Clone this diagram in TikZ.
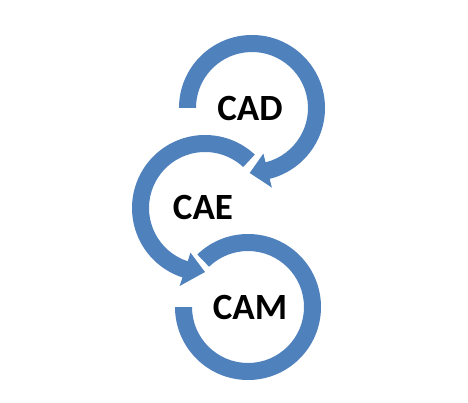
\documentclass[tikz,border=0pt]{standalone}
\usepackage{fontspec}
\setmainfont{Carlito}
\definecolor{ringblue}{HTML}{4F81BD}
\begin{document}
\begin{tikzpicture}[x=1pt,y=1pt,
  lbl/.style={font=\bfseries\fontsize{37}{40}\selectfont, inner sep=0pt, text=black},
  ring/.style={fill=ringblue}]
\useasboundingbox (0,0) rectangle (468,402);
\fill[white] (0,0) rectangle (468,402);
% CAD ring with arrow
\fill[ring, shift={(252,294)}] (180:73pt) arc[start angle=180, end angle=-76, radius=73pt]
  -- (-76:82pt) -- (-92:65pt) -- (-76:47pt) -- (-76:56pt)
  arc[start angle=-76, end angle=180, radius=56pt] -- cycle;
% CAE ring with arrow
\fill[ring, shift={(205,194)}] (47:73pt) arc[start angle=47, end angle=252, radius=73pt]
  -- (252:82pt) -- (270:64pt) -- (252:47pt) -- (252:56pt)
  arc[start angle=252, end angle=47, radius=56pt] -- cycle;
% CAM ring
\fill[ring, shift={(248,95)}] (134:73pt) arc[start angle=134, end angle=-180, radius=73pt]
  -- (180:56pt) arc[start angle=-180, end angle=134, radius=56pt] -- cycle;
\node[lbl] (cad) at (250,294) {CAD};
\node[lbl] (cae) at (203,195) {CAE};
\node[lbl] (cam) at (250,95) {CAM};
\end{tikzpicture}
\end{document}
